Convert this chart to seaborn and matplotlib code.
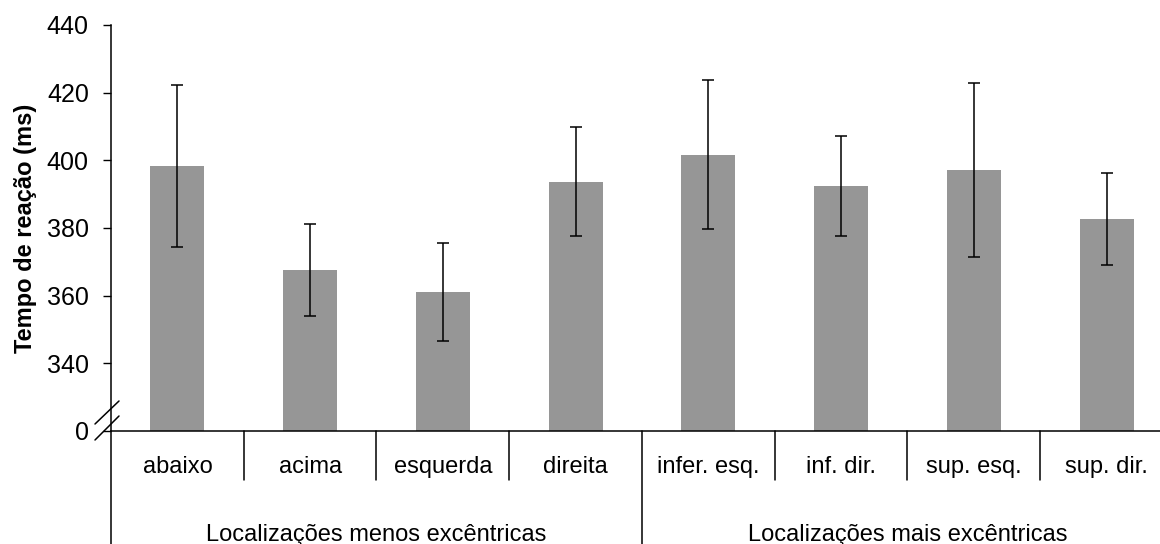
import matplotlib
matplotlib.use("Agg")
import matplotlib.pyplot as plt
import matplotlib.transforms as mtransforms
from matplotlib.lines import Line2D
import seaborn as sns
import pandas as pd

categories = ["abaixo", "acima", "esquerda", "direita",
              "infer. esq.", "inf. dir.", "sup. esq.", "sup. dir."]
means = [398.3, 367.6, 361.1, 393.7, 401.7, 392.3, 397.2, 382.7]
errors = [23.9, 13.6, 14.5, 16.1, 22.0, 14.8, 25.8, 13.7]
groups = ["Localizações menos excêntricas", "Localizações mais excêntricas"]
group_sizes = [4, 4]
ytick_values = [320, 340, 360, 380, 400, 420, 440]
ytick_labels = ["0", "340", "360", "380", "400", "420", "440"]
ylabel = "Tempo de reação (ms)"

sns.set_theme(style="white")
plt.rcParams['font.family'] = ['Liberation Sans', 'DejaVu Sans']

W, H = 1160, 544
fig = plt.figure(figsize=(W / 100, H / 100), dpi=100)
ax_left, ax_right, ax_top, ax_bot = 111, 1173, 25, 431
ax = fig.add_axes([ax_left / W, 1 - ax_bot / H, (ax_right - ax_left) / W, (ax_bot - ax_top) / H])

df = pd.DataFrame({"cat": categories, "val": means})
sns.barplot(data=df, x="cat", y="val", color="#969696", saturation=1, width=0.405, ax=ax)
for p in ax.patches:
    p.set_edgecolor("none")
ax.errorbar(range(len(categories)), means, yerr=errors, fmt="none",
            ecolor="black", elinewidth=1.1, capsize=4.5, capthick=1.1)

ax.set_ylim(320, 440)
ax.set_xlim(-0.5, len(categories) - 0.5)
ax.set_yticks(ytick_values)
ax.set_yticklabels(ytick_labels, fontsize=18, color="black")
ax.tick_params(axis="y", direction="out", length=6, width=1, color="black", left=True, pad=10)
ax.set_xticks([])
ax.set_xlabel("")
ax.set_ylabel(ylabel, fontsize=17, fontweight="bold", color="black")
ax.yaxis.set_label_coords(-0.070, 0.5)

for s in ["top", "right"]:
    ax.spines[s].set_visible(False)
for s in ["left", "bottom"]:
    ax.spines[s].set_color("black")
    ax.spines[s].set_linewidth(1.1)
ax.spines["bottom"].set_bounds(-0.5, len(categories) - 0.5)

trans = mtransforms.blended_transform_factory(ax.transData, ax.transAxes)
axh = ax_bot - ax_top
cat_sep_bottom = -(480 - ax_bot) / axh
fig_bottom = -(H - ax_bot + 2) / axh

# left border down to bottom
ax.add_line(Line2D([-0.5, -0.5], [0, fig_bottom], transform=trans, color="black", lw=1.1, clip_on=False))
# category separators
for k in range(1, len(categories)):
    bottom = fig_bottom if k == group_sizes[0] else cat_sep_bottom
    ax.add_line(Line2D([k - 0.5, k - 0.5], [0, bottom], transform=trans, color="black", lw=1.1, clip_on=False))

# category labels
cat_y = -(473 - ax_bot) / axh
for i, c in enumerate(categories):
    ax.text(i, cat_y, c, transform=trans, ha="center", va="baseline", fontsize=17, color="black")

# group labels
grp_y = -(541 - ax_bot) / axh
start = 0
for g, n in zip(groups, group_sizes):
    center = start + (n - 1) / 2
    ax.text(center, grp_y, g, transform=trans, ha="center", va="baseline", fontsize=17, color="black")
    start += n

# axis break marks
for (x0, y0, x1, y1) in [(95, 424, 119, 401), (95, 440, 119, 416)]:
    fig.add_artist(Line2D([x0 / W, x1 / W], [1 - y0 / H, 1 - y1 / H], transform=fig.transFigure,
                          color="black", lw=1.1))

fig.savefig("out.png", dpi=100, facecolor="white")
